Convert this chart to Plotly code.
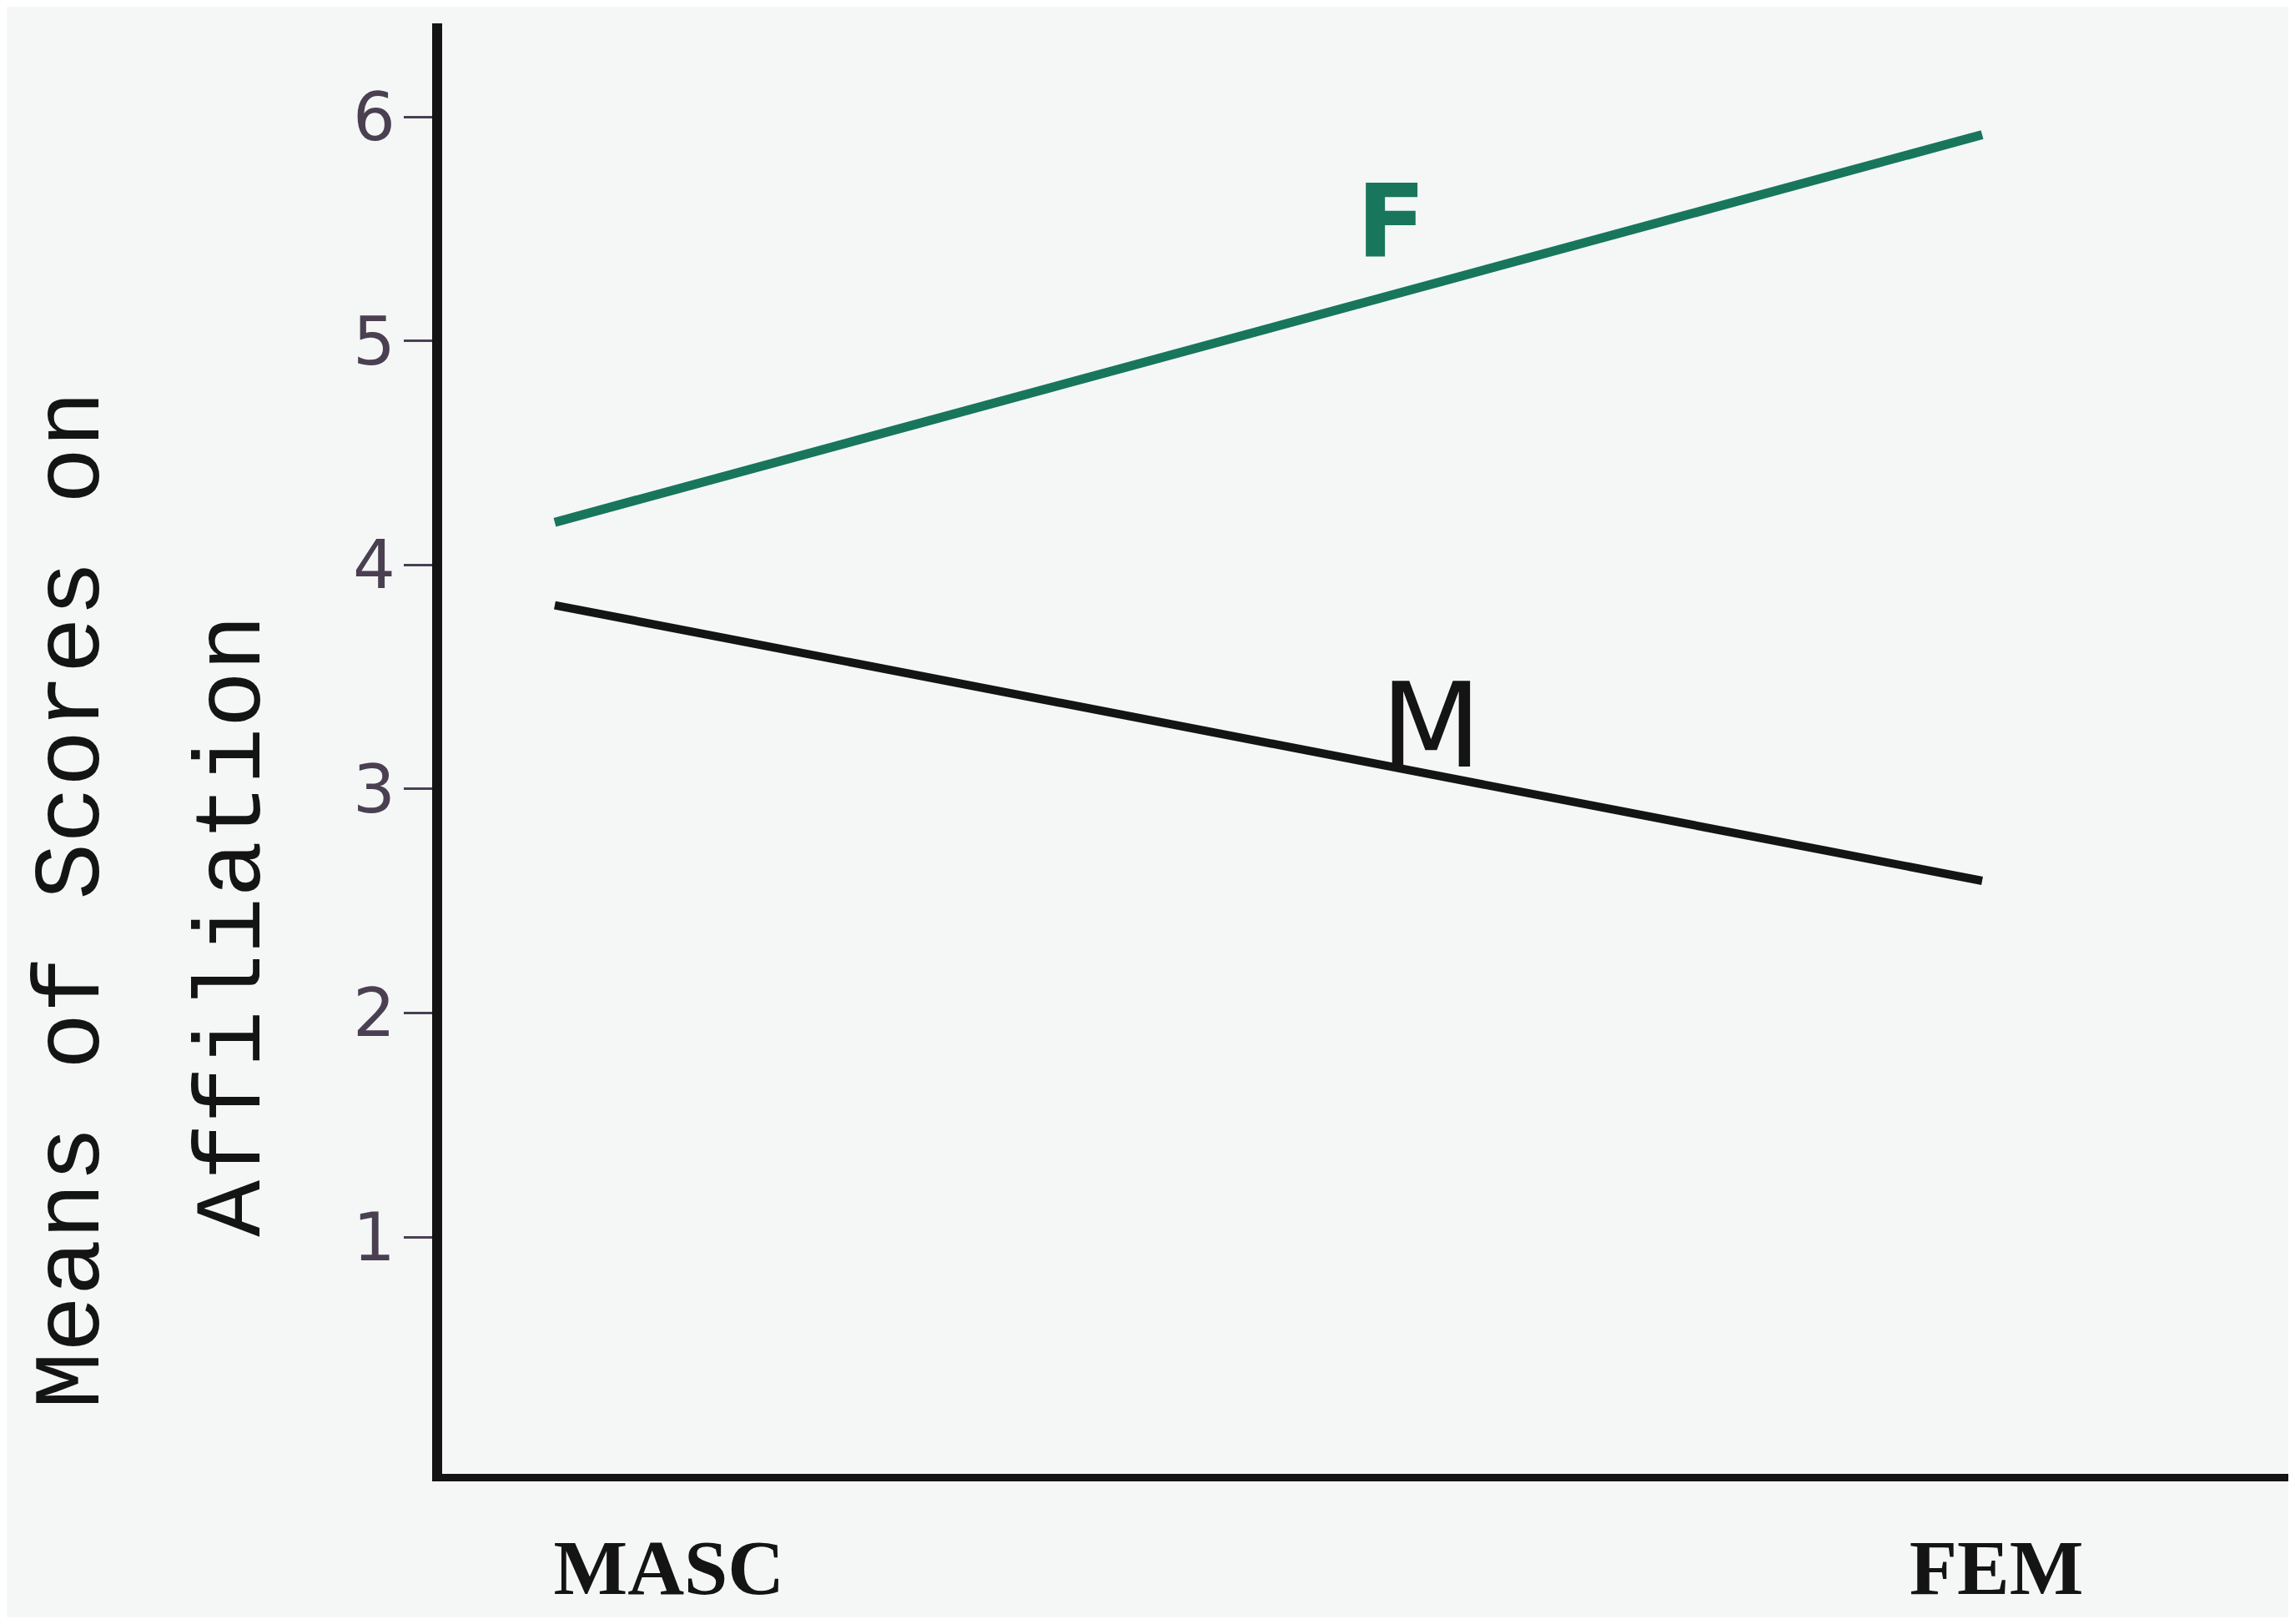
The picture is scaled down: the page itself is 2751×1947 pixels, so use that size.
import plotly.graph_objects as go

# ---- data ----
categories = ["MASC", "FEM"]
cat_pos = [0, 1]                 # positions of the two groups on the x scale
label_pos = [0.08, 1.01]         # where the category labels sit on the x scale
female_means = [4.19, 5.92]      # F (green)
male_means = [3.82, 2.59]        # M (black)
y_ticks = [1, 2, 3, 4, 5, 6]
y_title_1 = "Means of Scores on"
y_title_2 = "Affiliation"

# page body has an 8px default margin, so the figure is drawn slightly smaller
W, H = 2735, 1931
ink = "#141414"
pencil = "#4a4052"
green = "#18765c"

fig = go.Figure()
fig.add_trace(go.Scatter(x=cat_pos, y=female_means, mode="lines",
                         line=dict(color=green, width=11), name="F",
                         showlegend=False))
fig.add_trace(go.Scatter(x=cat_pos, y=male_means, mode="lines",
                         line=dict(color=ink, width=10), name="M",
                         showlegend=False))

# series labels
fig.add_annotation(x=0.586, y=5.53, xref="x", yref="y", text="<b>F</b>",
                   showarrow=False, font=dict(family="DejaVu Sans", size=122, color=green))
fig.add_annotation(x=0.614, y=3.28, xref="x", yref="y", text="M",
                   showarrow=False, font=dict(family="DejaVu Sans", size=140, color=ink))

# y-axis title (two typed lines)
fig.add_annotation(x=-0.1997, y=0.3956, xref="paper", yref="paper", text=y_title_1,
                   textangle=-90, showarrow=False, xanchor="center", yanchor="middle",
                   font=dict(family="Liberation Mono", size=113, color=ink))
fig.add_annotation(x=-0.1125, y=0.378, xref="paper", yref="paper", text=y_title_2,
                   textangle=-90, showarrow=False, xanchor="center", yanchor="middle",
                   font=dict(family="Liberation Mono", size=113, color=ink))

fig.update_layout(
    width=W, height=H,
    margin=dict(l=522, r=0, t=20, b=172, autoexpand=False),
    paper_bgcolor="#f5f7f7", plot_bgcolor="#f5f7f7",
    showlegend=False,
)
fig.update_xaxes(
    range=[-0.0789, 1.2145], tickvals=label_pos, ticktext=categories,
    showgrid=False, zeroline=False, showline=True, linecolor=ink, linewidth=9,
    ticks="", ticklabelstandoff=22, automargin=False,
    tickfont=dict(family="Liberation Serif", size=94, color=ink, weight="bold"),
)
fig.update_yaxes(
    range=[-0.057, 6.417], tickvals=y_ticks, ticktext=[str(v) for v in y_ticks],
    showgrid=False, zeroline=False, showline=True, linecolor=ink, linewidth=12,
    ticks="outside", ticklen=34, tickwidth=3, tickcolor=pencil,
    ticklabelstandoff=-6, automargin=False,
    tickfont=dict(family="DejaVu Sans", size=80, color=pencil),
)

fig.write_html("out.html")
